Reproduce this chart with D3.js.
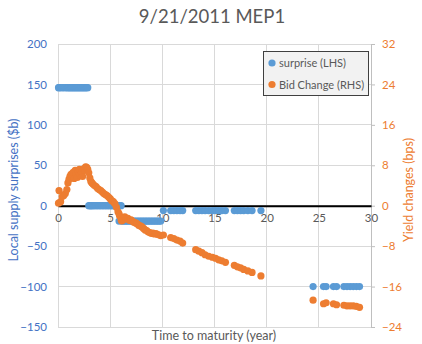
<!DOCTYPE html>
<html><head><meta charset="utf-8">
<script src="https://cdn.jsdelivr.net/npm/d3@7"></script>
<style>body{margin:0;background:#fff;}svg{display:block;font-family:Lato,"Open Sans",sans-serif;}</style>
</head><body><svg id="c" width="422" height="344"></svg>
<script>
const title = "9/21/2011 MEP1";
const xTicks = [0,5,10,15,20,25,30];
const leftTicks = [200,150,100,50,0,-50,-100,-150];
const rightTicks = [32,24,16,8,0,-8,-16,-24];
const seriesNames = ["surprise (LHS)", "Bid Change (RHS)"];
// maturity (years), surprise ($b), bid change (bps)
const maturity = [
 0.05,0.1,0.25,0.4,0.55,0.7,0.85,0.95,1.05,1.15,1.25,1.35,1.45,1.55,1.65,1.75,1.85,1.95,2.05,2.15,2.25,2.35,2.45,2.55,2.65,2.75,2.85,
 2.95,3.05,3.15,3.25,3.35,3.5,3.65,3.8,3.95,4.1,4.25,4.4,4.55,4.7,4.85,5.0,5.15,5.3,5.45,5.6,5.75,5.9,6.05,
 5.85,6.1,6.25,6.4,6.55,6.7,6.85,7.0,7.15,7.3,7.45,7.6,7.75,7.9,8.05,8.2,8.35,8.5,8.65,8.8,8.95,9.1,9.25,9.4,9.55,9.7,9.85,
 10.1,10.8,11.1,11.4,11.7,11.95,
 13.2,13.5,13.8,14.1,14.45,14.8,15.1,15.4,15.7,16.05,16.9,17.2,17.5,17.8,18.2,18.6,19.45,
 24.45,25.45,25.7,26.4,26.7,27.4,27.7,28.0,28.3,28.6,28.9
];
const surprise = [
 146,146,146,146,146,146,146,146,146,146,146,146,146,146,146,146,146,146,146,146,146,146,146,146,146,146,146,
 0,0,0,0,0,0,0,0,0,0,0,0,0,0,0,0,0,0,0,0,0,0,0,
 -19,-19,-19,-19,-19,-19,-19,-19,-19,-19,-19,-19,-19,-19,-19,-19,-19,-19,-19,-19,-19,-19,-19,-19,-19,-19,-19,
 -6,-6,-6,-6,-6,-6,
 -6,-6,-6,-6,-6,-6,-6,-6,-6,-6,-6,-6,-6,-6,-6,-6,-6,
 -100,-100,-100,-100,-100,-100,-100,-100,-100,-100,-100
];
const bidChange = [
 0.5,3.0,0.8,1.8,2.0,2.4,3.2,4.5,5.2,5.8,6.2,6.0,6.6,5.4,7.0,6.3,5.6,6.8,7.2,6.0,6.6,5.8,7.3,7.0,7.7,7.6,7.2,
 6.5,5.5,4.8,4.5,4.3,4.0,3.8,3.4,3.2,3.0,2.7,2.4,2.2,2.0,1.7,1.4,1.0,0.8,0.4,-0.3,-1.2,-2.0,-2.8,
 -1.6,-3.0,-2.8,-2.2,-2.6,-2.5,-2.9,-2.8,-3.1,-3.3,-3.4,-3.6,-3.9,-4.0,-4.2,-4.5,-4.8,-4.9,-5.2,-5.3,-5.5,-5.4,-5.6,-5.5,-5.7,-5.8,-5.9,
 -5.8,-6.3,-6.5,-6.8,-7.0,-7.4,
 -8.7,-9.0,-9.3,-9.7,-10.0,-10.2,-10.4,-10.7,-10.9,-11.2,-11.8,-12.1,-12.3,-12.6,-12.9,-13.2,-13.9,
 -18.7,-19.4,-19.2,-19.4,-19.6,-19.7,-19.8,-19.8,-19.8,-19.9,-20.1
];

const BLUE = "#5B9BD5", ORANGE = "#ED7D31", AXBLUE = "#4472C4", GRAY = "#595959";
const L = 58, R = 371, T = 44, B = 327;
const svg = d3.select("#c");
const x = d3.scaleLinear().domain([0,30]).range([L,R]);
const yL = d3.scaleLinear().domain([-150,200]).range([B,T]);
const yR = d3.scaleLinear().domain([-24,32]).range([B,T]);

// gridlines
svg.append("g").selectAll("line.h").data(leftTicks).join("line")
  .attr("x1",L).attr("x2",R).attr("y1",d=>yL(d)).attr("y2",d=>yL(d))
  .attr("stroke","#d9d9d9").attr("stroke-width",1).attr("shape-rendering","crispEdges");
svg.append("g").selectAll("line.v").data(xTicks).join("line")
  .attr("x1",d=>x(d)).attr("x2",d=>x(d)).attr("y1",T).attr("y2",B)
  .attr("stroke","#d9d9d9").attr("stroke-width",1).attr("shape-rendering","crispEdges");

// left axis labels
const gl = svg.append("g").attr("transform",`translate(${L},0)`).call(d3.axisLeft(yL).tickValues(leftTicks).tickSize(0).tickPadding(11));
gl.select(".domain").remove();
gl.selectAll("text").attr("fill",AXBLUE).style("font-size","11.5px").style("font-family","Lato, sans-serif");

// right axis
const gr = svg.append("g").attr("transform",`translate(${R},0)`).call(d3.axisRight(yR).tickValues(rightTicks).tickSize(4).tickPadding(7));
gr.select(".domain").attr("stroke","#bfbfbf");
gr.selectAll(".tick line").attr("stroke","#bfbfbf");
gr.selectAll("text").attr("fill",ORANGE).style("font-size","11.5px").style("font-family","Lato, sans-serif");

// x axis at zero
const gx = svg.append("g").attr("transform",`translate(0,${yL(0)})`).call(d3.axisBottom(x).tickValues(xTicks).tickSize(0).tickPadding(8));
gx.select(".domain").attr("stroke","#000").attr("stroke-width",2);
gx.selectAll("text").attr("fill",GRAY).style("font-size","11.5px").style("font-family","Lato, sans-serif");

const pts = maturity.map((m,i)=>({m, s:surprise[i], b:bidChange[i]}));
svg.append("g").selectAll("circle").data(pts).join("circle")
  .attr("cx",d=>x(d.m)).attr("cy",d=>yL(d.s)).attr("r",3.6).attr("fill",BLUE);
svg.append("g").selectAll("circle").data(pts).join("circle")
  .attr("cx",d=>x(d.m)).attr("cy",d=>yR(d.b)).attr("r",3.6).attr("fill",ORANGE);

// title
svg.append("text").attr("x",212).attr("y",23).attr("text-anchor","middle")
  .attr("fill",GRAY).style("font-size","18.5px").text(title);
// axis titles
svg.append("text").attr("transform","translate(18,190) rotate(-90)").attr("text-anchor","middle")
  .attr("fill",AXBLUE).style("font-size","12.5px").text("Local supply surprises ($b)");
svg.append("text").attr("transform","translate(413,190) rotate(-90)").attr("text-anchor","middle")
  .attr("fill",ORANGE).style("font-size","12.5px").text("Yield changes (bps)");
svg.append("text").attr("x",214).attr("y",340).attr("text-anchor","middle")
  .attr("fill",GRAY).style("font-size","12.5px").text("Time to maturity (year)");

// legend
const lg = svg.append("g");
lg.append("rect").attr("x",263.5).attr("y",51.5).attr("width",105).attr("height",44)
  .attr("fill","#f2f2f2").attr("stroke","#404040").attr("stroke-width",1);
[BLUE,ORANGE].forEach((c,i)=>{
  lg.append("circle").attr("cx",272).attr("cy",63+i*21.5).attr("r",3.6).attr("fill",c);
  lg.append("text").attr("x",279).attr("y",67+i*21.5).attr("fill",GRAY).style("font-size","11px").text(seriesNames[i]);
});
</script></body></html>
